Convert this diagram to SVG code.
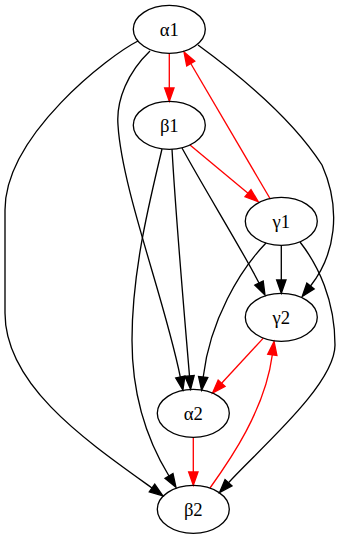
<svg xmlns="http://www.w3.org/2000/svg" width="340" height="539" viewBox="0 0 340 539">
<style>
.node ellipse{fill:none;stroke:#000;stroke-width:1.33}
.node text{font-family:"Liberation Serif","Times New Roman",serif;font-size:18.67px;text-anchor:middle;fill:#000}
.e{fill:none;stroke-width:1.33}
.k{stroke:#000;marker-end:url(#ak)}
.r{stroke:#ff0000;marker-end:url(#ar)}
</style>
<defs>
<marker id="ak" markerUnits="userSpaceOnUse" orient="auto" markerWidth="16" markerHeight="12" refX="0" refY="4.67" viewBox="-1 -1 16 12" overflow="visible">
<path d="M0,0 L13.33,4.67 L0,9.33 Z" fill="#000" stroke="#000" stroke-width="1.33"/>
</marker>
<marker id="ar" markerUnits="userSpaceOnUse" orient="auto" markerWidth="16" markerHeight="12" refX="0" refY="4.67" viewBox="-1 -1 16 12" overflow="visible">
<path d="M0,0 L13.33,4.67 L0,9.33 Z" fill="#ff0000" stroke="#ff0000" stroke-width="1.33"/>
</marker>
</defs>
<rect width="340" height="539" fill="#fff"/>
<g id="edges">
<path class="e k" d="M138,41 C110,55 5,135 5,210 L5,313 C5,385 85,440 152,488"/>
<path class="e k" d="M150,51 C128,72 116,100 118,125 C122,190 165,300 180.3,377"/>
<path class="e k" d="M198,45 C235,72 290,115 322,165 C342,210 335,255 310.5,286"/>
<path class="e k" d="M172,149 C176,220 184,310 189.5,376"/>
<path class="e k" d="M182,148 C205,190 245,255 259,283"/>
<path class="e k" d="M162,149 C150,200 132,270 132,340 C132,400 150,445 169,476"/>
<path class="e k" d="M281.3,245.3 L281.3,280"/>
<path class="e k" d="M266,243 C240,270 210,320 203.2,377"/>
<path class="e k" d="M300,242 C318,265 335,300 335,345 C335,385 258,450 228.5,482.7"/>
<path class="e r" d="M169.3,53.3 L169.3,88"/>
<path class="e r" d="M190,145 L248,193.2"/>
<path class="e r" d="M270,198.5 L190.75,63.5"/>
<path class="e r" d="M263.3,338.1 L221.6,383.2"/>
<path class="e r" d="M193.3,437.3 L193.3,472"/>
<path class="e r" d="M210,488 C230,460 265,410 272.3,354.8"/>
</g>
<g id="a1" class="node"><ellipse cx="169.3" cy="29.3" rx="36" ry="24"/><text x="169.3" y="35.6">α1</text></g>
<g id="b1" class="node"><ellipse cx="169.3" cy="125.3" rx="36" ry="24"/><text x="169.3" y="131.6">β1</text></g>
<g id="g1" class="node"><ellipse cx="281.3" cy="221.3" rx="36" ry="24"/><text x="281.3" y="227.6">γ1</text></g>
<g id="g2" class="node"><ellipse cx="281.3" cy="317.3" rx="36" ry="24"/><text x="281.3" y="323.6">γ2</text></g>
<g id="a2" class="node"><ellipse cx="193.3" cy="413.3" rx="36" ry="24"/><text x="193.3" y="419.6">α2</text></g>
<g id="b2" class="node"><ellipse cx="193.3" cy="509.3" rx="36" ry="24"/><text x="193.3" y="515.6">β2</text></g>
</svg>
